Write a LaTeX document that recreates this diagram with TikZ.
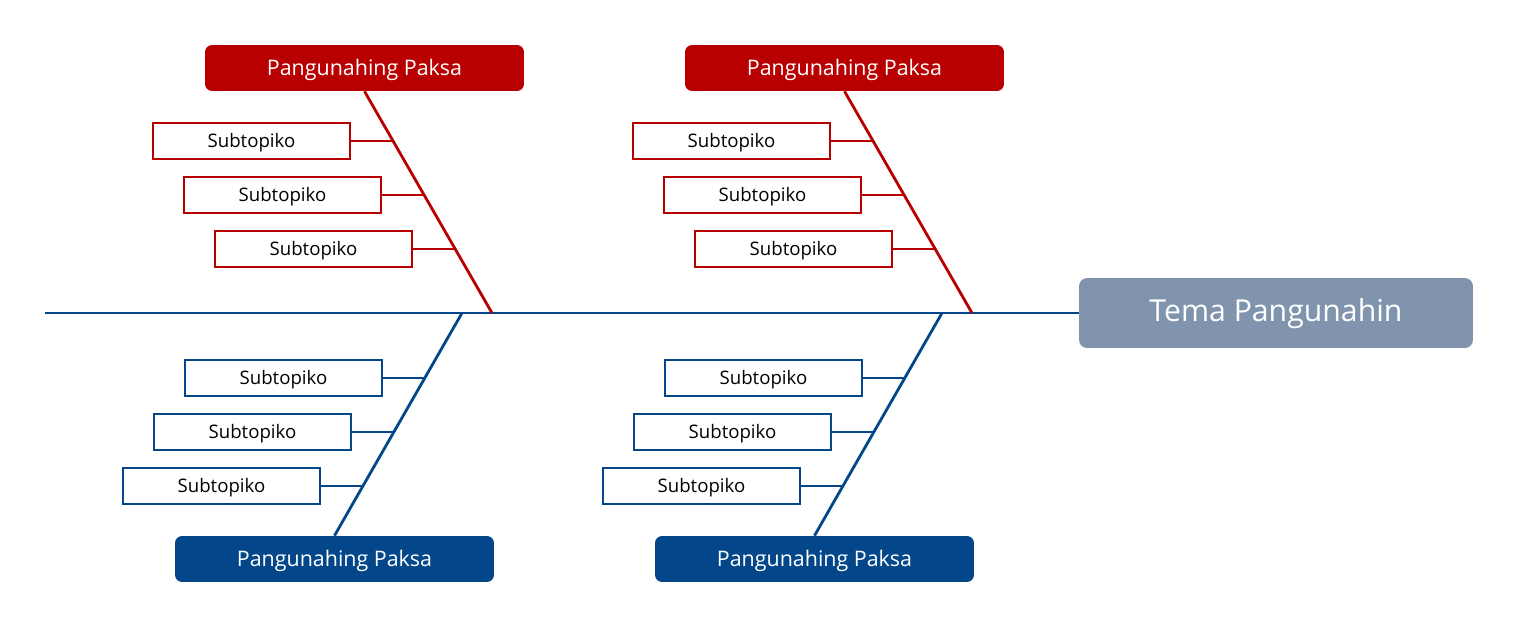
\documentclass[tikz,border=0pt]{standalone}
\usepackage{fontspec}
\setmainfont{Open Sans}
\usetikzlibrary{positioning}
\definecolor{paksapula}{HTML}{B80000}
\definecolor{paksaasul}{HTML}{03478A}
\definecolor{temaabo}{HTML}{8094AD}
\begin{document}
\begin{tikzpicture}[x=0.02cm, y=-0.02cm,
  tema/.style={fill=temaabo, text=white, rounded corners=0.16cm, minimum width=7.88cm, minimum height=1.4cm, text height=1.2em, text depth=0.2em, font=\fontsize{17.2}{20}\selectfont},
  paksa/.style={fill=#1, text=white, rounded corners=0.14cm, minimum width=6.38cm, minimum height=0.92cm, text height=1em, text depth=0.2em, font=\fontsize{12.2}{14}\selectfont},
  subtopiko/.style={draw=#1, fill=white, line width=1.5pt, minimum width=3.94cm, minimum height=0.72cm, text height=0.95em, text depth=0.2em, font=\fontsize{10.6}{12}\selectfont},
  buto/.style={draw=#1, line width=1.6pt}]
\useasboundingbox (0,0) rectangle (1519,642);
% Gulugod at pangunahing tema
\node[tema] (tema) at (1276,313) {Tema Pangunahin};
\coordinate (buntot) at (45,313);
\draw[buto=paksaasul] (buntot) -- (tema.west);
% Itaas na kaliwa
\node[paksa=paksapula] (pk1) at (364.5,68) {Pangunahing Paksa};
\coordinate (d1) at (492,313);
\draw[buto=paksapula] (pk1.south) -- (d1);
\node[subtopiko=paksapula] (s11) at (251.5,141) {Subtopiko};
\node[subtopiko=paksapula] (s12) at (282.5,195) {Subtopiko};
\node[subtopiko=paksapula] (s13) at (313.5,249) {Subtopiko};
\coordinate (b11) at (393,141);
\coordinate (b12) at (424,195);
\coordinate (b13) at (455,249);
\draw[buto=paksapula] (s11.east) -- (b11);
\draw[buto=paksapula] (s12.east) -- (b12);
\draw[buto=paksapula] (s13.east) -- (b13);
% Itaas na kanan
\node[paksa=paksapula] (pk2) at (844.5,68) {Pangunahing Paksa};
\coordinate (d2) at (972,313);
\draw[buto=paksapula] (pk2.south) -- (d2);
\node[subtopiko=paksapula] (s21) at (731.5,141) {Subtopiko};
\node[subtopiko=paksapula] (s22) at (762.5,195) {Subtopiko};
\node[subtopiko=paksapula] (s23) at (793.5,249) {Subtopiko};
\coordinate (b21) at (873,141);
\coordinate (b22) at (904,195);
\coordinate (b23) at (935,249);
\draw[buto=paksapula] (s21.east) -- (b21);
\draw[buto=paksapula] (s22.east) -- (b22);
\draw[buto=paksapula] (s23.east) -- (b23);
% Ibaba na kaliwa
\node[paksa=paksaasul] (pk3) at (334.5,559) {Pangunahing Paksa};
\coordinate (d3) at (462,313);
\draw[buto=paksaasul] (pk3.north) -- (d3);
\node[subtopiko=paksaasul] (s31) at (283.5,378) {Subtopiko};
\node[subtopiko=paksaasul] (s32) at (252.5,432) {Subtopiko};
\node[subtopiko=paksaasul] (s33) at (221.5,486) {Subtopiko};
\coordinate (b31) at (424.5,378);
\coordinate (b32) at (393.5,432);
\coordinate (b33) at (362.5,486);
\draw[buto=paksaasul] (s31.east) -- (b31);
\draw[buto=paksaasul] (s32.east) -- (b32);
\draw[buto=paksaasul] (s33.east) -- (b33);
% Ibaba na kanan
\node[paksa=paksaasul] (pk4) at (814.5,559) {Pangunahing Paksa};
\coordinate (d4) at (942,313);
\draw[buto=paksaasul] (pk4.north) -- (d4);
\node[subtopiko=paksaasul] (s41) at (763.5,378) {Subtopiko};
\node[subtopiko=paksaasul] (s42) at (732.5,432) {Subtopiko};
\node[subtopiko=paksaasul] (s43) at (701.5,486) {Subtopiko};
\coordinate (b41) at (904.5,378);
\coordinate (b42) at (873.5,432);
\coordinate (b43) at (842.5,486);
\draw[buto=paksaasul] (s41.east) -- (b41);
\draw[buto=paksaasul] (s42.east) -- (b42);
\draw[buto=paksaasul] (s43.east) -- (b43);
\end{tikzpicture}
\end{document}
